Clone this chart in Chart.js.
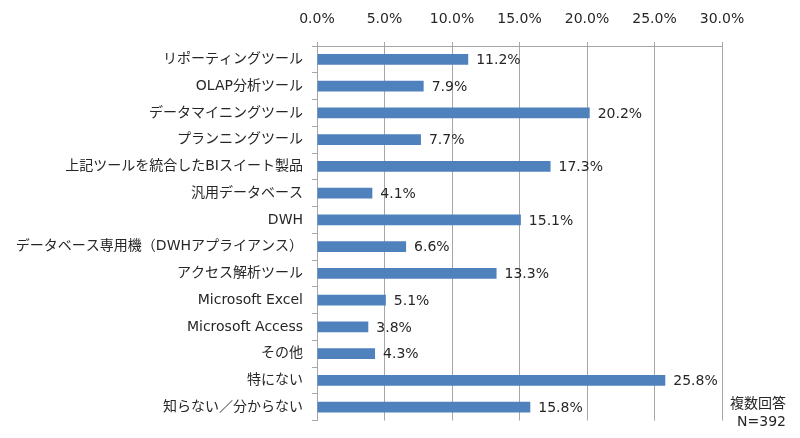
<!DOCTYPE html>
<html>
<head>
<meta charset="utf-8">
<script src="https://cdn.jsdelivr.net/npm/chart.js@4"></script>
<style>
  body { margin: 0; background: #fff; }
  #wrap { position: relative; width: 800px; height: 438px; }
  #note {
    position: absolute; right: 14px; top: 394px;
    font: 14px "DejaVu Sans", "Noto Sans CJK JP", sans-serif;
    color: #262626; text-align: right; line-height: 18px;
  }
</style>
</head>
<body>
<div id="wrap">
  <canvas id="chart"></canvas>
  <div id="note">複数回答<br>N=392</div>
</div>
<script>
// カテゴリと値（%）
const categories = [
  'リポーティングツール',
  'OLAP分析ツール',
  'データマイニングツール',
  'プランニングツール',
  '上記ツールを統合したBIスイート製品',
  '汎用データベース',
  'DWH',
  'データベース専用機（DWHアプライアンス）',
  'アクセス解析ツール',
  'Microsoft Excel',
  'Microsoft Access',
  'その他',
  '特にない',
  '知らない／分からない'
];
const values = [11.2, 7.9, 20.2, 7.7, 17.3, 4.1, 15.1, 6.6, 13.3, 5.1, 3.8, 4.3, 25.8, 15.8];
const xTicks = [0, 5, 10, 15, 20, 25, 30];

const FONT = '"DejaVu Sans", "Noto Sans CJK JP", sans-serif';
const TEXT = '#262626';
const GRID = '#a6a6a6';

// バー末尾に値ラベルを描く
const valueLabels = {
  id: 'valueLabels',
  afterDatasetsDraw(chart) {
    const ctx = chart.ctx;
    const meta = chart.getDatasetMeta(0);
    ctx.save();
    ctx.font = '14px ' + FONT;
    ctx.fillStyle = TEXT;
    ctx.textAlign = 'left';
    ctx.textBaseline = 'middle';
    meta.data.forEach((bar, i) => {
      ctx.fillText(values[i].toFixed(1) + '%', bar.x + 8, bar.y + 1);
    });
    ctx.restore();
  }
};

new Chart(document.getElementById('chart'), {
  type: 'bar',
  data: {
    labels: categories,
    datasets: [{
      data: values,
      backgroundColor: '#4f81bd',
      borderWidth: 0,
      barPercentage: 0.4,
      categoryPercentage: 1.0
    }]
  },
  options: {
    indexAxis: 'y',
    responsive: true,
    maintainAspectRatio: false,
    animation: false,
    layout: { padding: { top: 0, right: 78, bottom: 10, left: 0 } },
    plugins: {
      legend: { display: false },
      tooltip: { enabled: false }
    },
    scales: {
      x: {
        position: 'top',
        min: 0,
        max: 30,
        afterBuildTicks: (scale) => {
          scale.ticks = xTicks.map(v => ({ value: v }));
        },
        afterFit: (scale) => { scale.height = 46; },
        grid: { color: GRID, lineWidth: 1, tickLength: 4 },
        border: { color: GRID },
        ticks: {
          color: TEXT,
          font: { family: FONT, size: 14 },
          padding: 14,
          callback: (v) => Number(v).toFixed(1) + '%'
        }
      },
      y: {
        afterFit: (scale) => { scale.width = 317; },
        grid: { drawOnChartArea: false, color: GRID, tickLength: 5 },
        border: { color: GRID },
        ticks: {
          color: TEXT,
          font: { family: FONT, size: 14 },
          padding: 9,
          autoSkip: false
        }
      }
    }
  },
  plugins: [valueLabels]
});
</script>
</body>
</html>
